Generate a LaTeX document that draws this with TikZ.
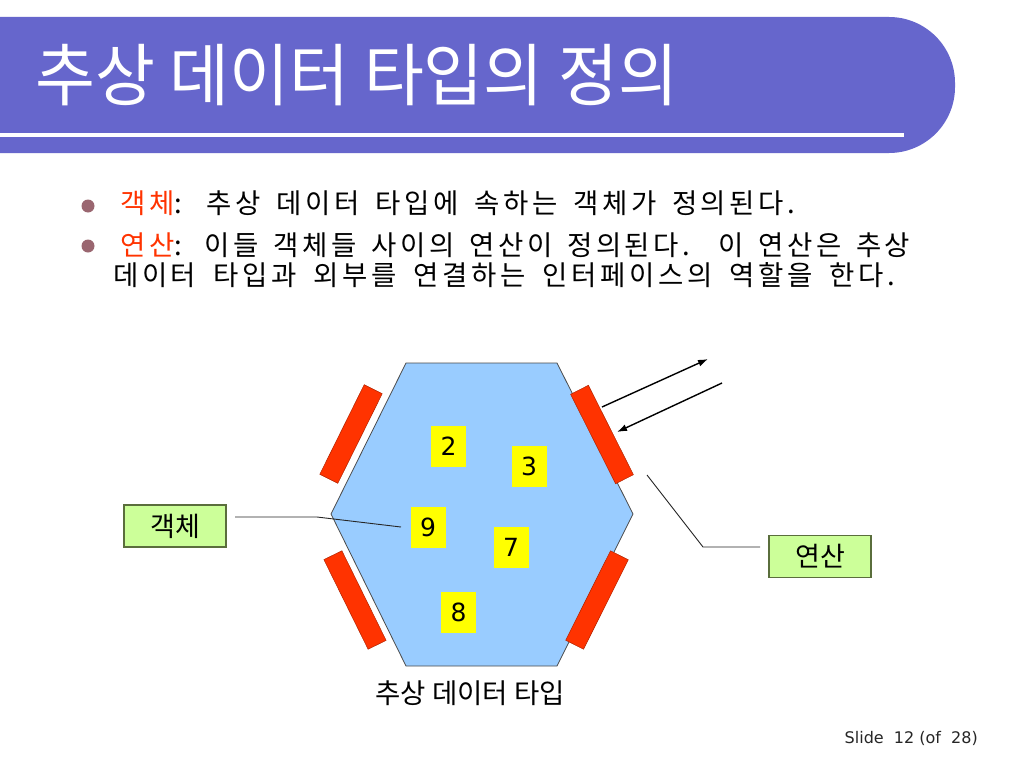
\documentclass[tikz,border=0pt]{standalone}
\usepackage{fontspec}
\usepackage{graphicx}
\setmainfont{Noto Sans CJK KR}
\newfontfamily\krsp[LetterSpace=13]{Noto Sans CJK KR}
\newfontfamily\dejavu{DejaVu Sans}
\usetikzlibrary{arrows.meta}
\definecolor{titlebg}{HTML}{6666CC}
\definecolor{hexfill}{HTML}{99CCFF}
\definecolor{opred}{HTML}{FF3300}
\definecolor{labfill}{HTML}{CCFF99}
\definecolor{labdraw}{HTML}{5A6E3C}
\definecolor{bulletc}{HTML}{9A6670}
\definecolor{numfill}{HTML}{FFFF00}
\begin{document}
\begin{tikzpicture}[x=1pt,y=-1pt,
  hexsty/.style={fill=hexfill, draw=black!70, line width=0.8pt},
  opsty/.style={fill=opred, draw=opred!70!black, line width=0.5pt},
  numbox/.style={fill=numfill, minimum width=35pt, minimum height=41pt, inner sep=0pt, font=\dejavu\fontsize{25pt}{28pt}\selectfont},
  labbox/.style={fill=labfill, draw=labdraw, line width=1.2pt, minimum width=102pt, minimum height=42pt, inner sep=0pt, font=\fontsize{27pt}{30pt}\selectfont},
  leader/.style={draw=black!85, line width=0.9pt},
  iface/.style={draw=black, line width=1.4pt, -{Latex[length=10pt,width=7pt]}},
  bullettext/.style={anchor=base west, inner sep=0pt, font=\krsp\fontsize{27.5pt}{30pt}\selectfont},
  bulletdot/.style={circle, fill=bulletc, minimum size=13pt, inner sep=0pt},
]
\useasboundingbox (0,0) rectangle (1024,768);
\fill[white] (0,0) rectangle (1024,768);
% title bar
\fill[titlebg, rounded corners=66pt] (-200,17) -- (955,17) -- (955,153) -- (-200,153) -- cycle;
\draw[white, line width=4.5pt] (-5,135) -- (904,135);
\node[anchor=base west, inner sep=0pt, text=white, font=\fontsize{68pt}{72pt}\selectfont] (title) at (35,100) {\scalebox{0.958}[1]{추상 데이터 타입의 정의}};
% bullets
\node[bulletdot] (b1) at (88,206) {};
\node[bulletdot] (b2) at (88,246) {};
\node[bullettext] (l1) at (120,213) {\makebox[675pt][s]{\textcolor{opred}{객체}: 추상 데이터 타입에 속하는 객체가 정의된다.}};
\node[bullettext] (l2) at (120,255) {\makebox[790pt][s]{\textcolor{opred}{연산}: 이들 객체들 사이의 연산이 정의된다. 이 연산은 추상}};
\node[bullettext] (l3) at (113,285) {\makebox[782pt][s]{데이터 타입과 외부를 연결하는 인터페이스의 역할을 한다.}};
% hexagon
\draw[hexsty] (406,363) -- (557,363) -- (633,514) -- (557,666) -- (406,666) -- (331,514) -- cycle;
% operation bars
\draw[opsty] (364.2,384.7) -- (382.2,393.7) -- (337.8,483.3) -- (319.8,474.3) -- cycle;
\draw[opsty] (588.4,385.3) -- (633.4,474.7) -- (615.6,483.7) -- (570.6,394.3) -- cycle;
\draw[opsty] (323.9,559.6) -- (341.9,550.8) -- (386.1,640.4) -- (368.1,649.2) -- cycle;
\draw[opsty] (628.3,559.8) -- (610.5,550.8) -- (565.7,640.2) -- (583.5,649.2) -- cycle;
% objects
\node[numbox] (n2) at (448.5,446.5) {2};
\node[numbox] (n3) at (529,466.5) {3};
\node[numbox] (n9) at (428,527) {9};
\node[numbox] (n7) at (511,547) {7};
\node[numbox] (n8) at (458.5,612.5) {8};
% interface arrows
\coordinate (outS) at (602,407);
\coordinate (outE) at (708,359);
\coordinate (inS) at (722,383);
\coordinate (inE) at (617,432);
\draw[iface] (outS) -- (outE);
\draw[iface] (inS) -- (inE);
% labels
\node[labbox] (obj) at (175,526) {객체};
\node[labbox] (ops) at (820,556.5) {연산};
\coordinate (objA) at (235,517);
\coordinate (objB) at (317,517);
\coordinate (objC) at (401,527);
\draw[leader] (objA) -- (objB) -- (objC);
\coordinate (opsA) at (647,475);
\coordinate (opsB) at (703,547);
\coordinate (opsC) at (760,547);
\draw[leader] (opsA) -- (opsB) -- (opsC);
% caption and footer
\node[inner sep=0pt, font=\fontsize{27.5pt}{30pt}\selectfont] (cap) at (470,693) {추상 데이터 타입};
\node[anchor=east, inner sep=0pt, text=black!85, font=\dejavu\fontsize{16pt}{18pt}\selectfont] (foot) at (978,738) {Slide\ \ 12 (of\ \ 28)};
\end{tikzpicture}
\end{document}
